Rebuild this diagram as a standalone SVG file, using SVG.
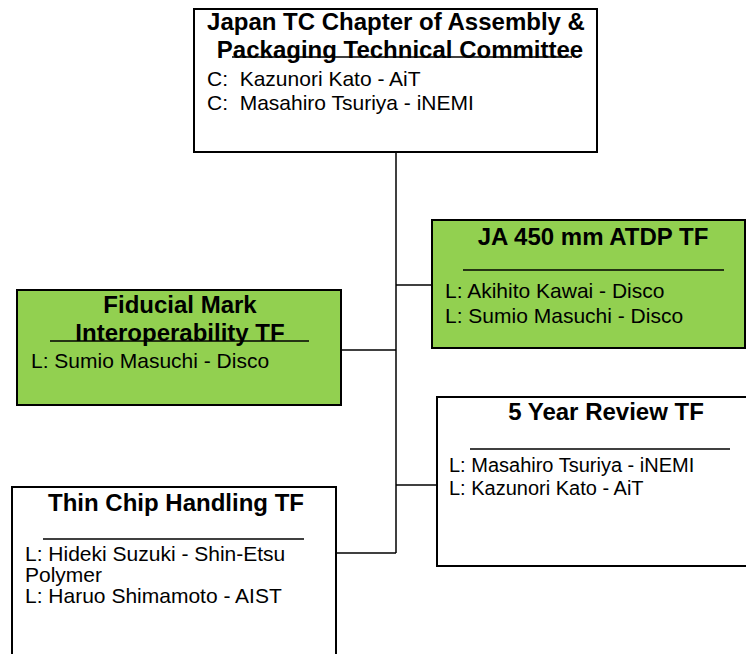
<svg xmlns="http://www.w3.org/2000/svg" width="746" height="654" viewBox="0 0 746 654">
<style>
.box{stroke:#000;stroke-width:2;fill:#fff}
.green{fill:#92D050}
.t{font-family:"Liberation Sans",Arial,sans-serif;font-size:24px;font-weight:bold;fill:#000;text-anchor:middle}
.b{font-family:"Liberation Sans",Arial,sans-serif;font-size:21px;fill:#000}
.s{font-size:20px}
.ul{stroke:#000;stroke-width:1.5}
.c{stroke:#000;stroke-width:1.5;fill:none}
</style>
<rect width="746" height="654" fill="#fff"/>
<g id="connectors">
<line class="c" x1="396" y1="152" x2="396" y2="553"/>
<line class="c" x1="396" y1="285" x2="432" y2="285"/>
<line class="c" x1="341" y1="350" x2="396" y2="350"/>
<line class="c" x1="396" y1="485" x2="437" y2="485"/>
<line class="c" x1="336" y1="553" x2="396" y2="553"/>
</g>
<g id="top">
<rect class="box" x="194" y="9" width="403" height="143"/>
<text class="t" x="396" y="30">Japan TC Chapter of Assembly &amp;</text>
<text class="t" x="400" y="58">Packaging Technical Committee</text>
<line class="ul" x1="232" y1="57" x2="572" y2="57"/>
<text class="b" x="207" y="86" xml:space="preserve">C:  Kazunori Kato - AiT</text>
<text class="b" x="207" y="110" xml:space="preserve">C:  Masahiro Tsuriya - iNEMI</text>
</g>
<g id="ja450">
<rect class="box green" x="432" y="220" width="313" height="128"/>
<text class="t" x="593" y="245">JA 450 mm ATDP TF</text>
<line class="ul" x1="463" y1="270" x2="724" y2="270"/>
<text class="b" x="445" y="298">L: Akihito Kawai - Disco</text>
<text class="b" x="445" y="323">L: Sumio Masuchi - Disco</text>
</g>
<g id="fiducial">
<rect class="box green" x="17" y="290" width="324" height="115"/>
<text class="t" x="180" y="313">Fiducial Mark</text>
<text class="t" x="180" y="341">Interoperability TF</text>
<line class="ul" x1="50" y1="341" x2="309" y2="341"/>
<text class="b" x="31" y="368">L: Sumio Masuchi - Disco</text>
</g>
<g id="fiveyear">
<rect class="box" x="437" y="397" width="320" height="169"/>
<text class="t" x="606" y="420">5 Year Review TF</text>
<line class="ul" x1="470" y1="449" x2="730" y2="449"/>
<text class="b s" x="449" y="472">L: Masahiro Tsuriya - iNEMI</text>
<text class="b s" x="449" y="495">L: Kazunori Kato - AiT</text>
</g>
<g id="thinchip">
<rect class="box" x="12" y="487" width="324" height="180"/>
<text class="t" x="176" y="511">Thin Chip Handling TF</text>
<line class="ul" x1="43" y1="539" x2="304" y2="539"/>
<text class="b" x="25" y="561">L: Hideki Suzuki - Shin-Etsu</text>
<text class="b" x="25" y="582">Polymer</text>
<text class="b" x="25" y="603">L: Haruo Shimamoto - AIST</text>
</g>
</svg>
